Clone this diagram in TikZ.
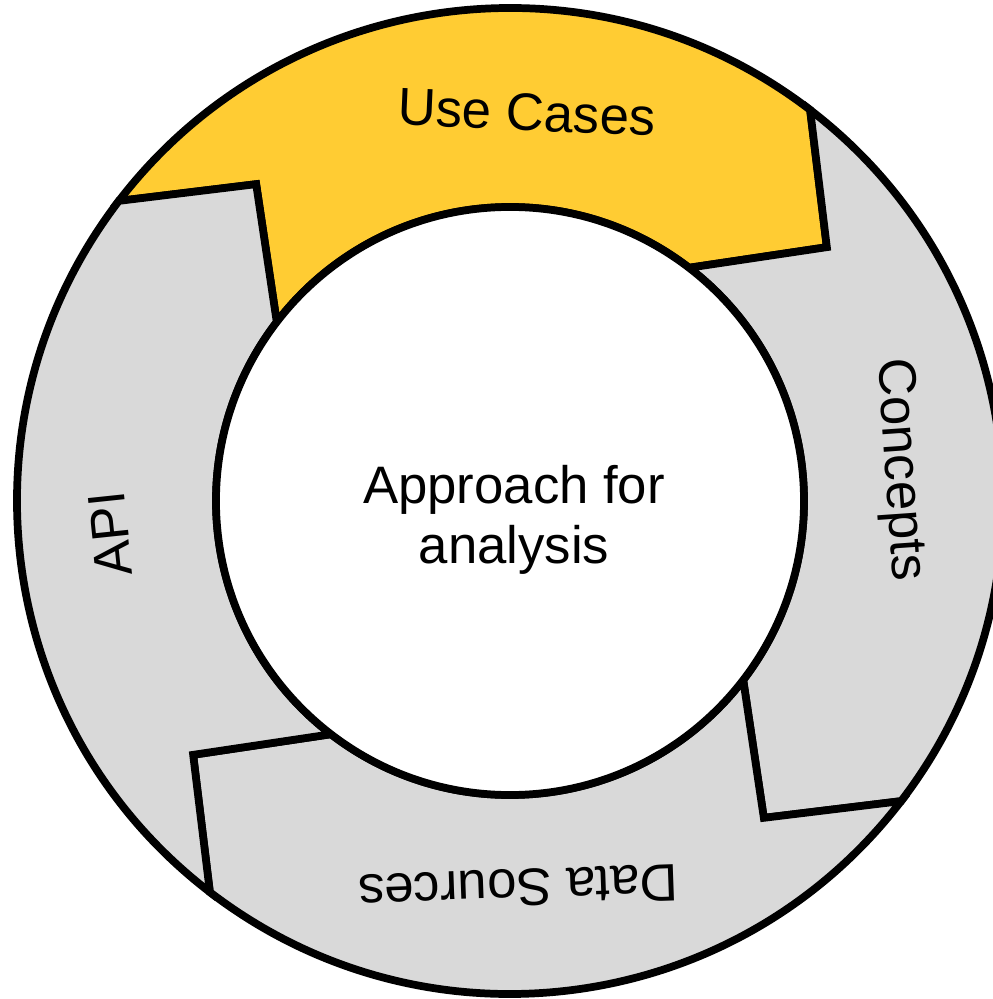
\documentclass[tikz,border=0pt]{standalone}
\usepackage{fontspec}
\setmainfont{Liberation Sans}
\definecolor{caseyellow}{RGB}{255,204,51}
\definecolor{ringgray}{RGB}{217,217,217}

\begin{document}
\begin{tikzpicture}[line width=2.2pt,line join=miter,miter limit=4,
                    every node/.style={font=\fontsize{15}{17}\selectfont}]
  \tikzstyle{ring part}=[draw=black]
  \tikzstyle{part label}=[inner sep=0pt]
  \tikzstyle{hub}=[draw=black,fill=white,circle,minimum size=5.88cm,inner sep=0pt]
  \def\Rout{4.93}
  \def\Rin{2.94}
  \def\Rmid{4.06}

  \useasboundingbox (-5.10,-4.98) rectangle (4.82,5.01);

  % four arrow pieces of the ring, going clockwise
  \foreach \tail/\col in {142.5/caseyellow,52.5/ringgray,-37.5/ringgray,-127.5/ringgray}
    \filldraw[ring part,fill=\col]
      (\tail:\Rout) arc[start angle=\tail,end angle=\tail-90,radius=\Rout]
      -- ({\tail-103.8}:\Rmid) -- ({\tail-90}:\Rin)
      arc[start angle=\tail-90,end angle=\tail,radius=\Rin]
      -- ({\tail-13.8}:\Rmid) -- cycle;

  \node[part label,rotate=-2.5] (usecases)    at (87.5:3.89)  {Use Cases};
  \node[part label,rotate=-86]  (concepts)    at (4.6:3.90)   {Concepts};
  \node[part label,rotate=182]  (datasources) at (-88.8:3.87) {Data Sources};
  \node[part label,rotate=96]   (api)         at (184.7:4.01) {API};

  \node[hub] (center) at (0,0) {};
  \node[align=center] (centertext) at (0.04,-0.19) {Approach for\\analysis};
\end{tikzpicture}
\end{document}
